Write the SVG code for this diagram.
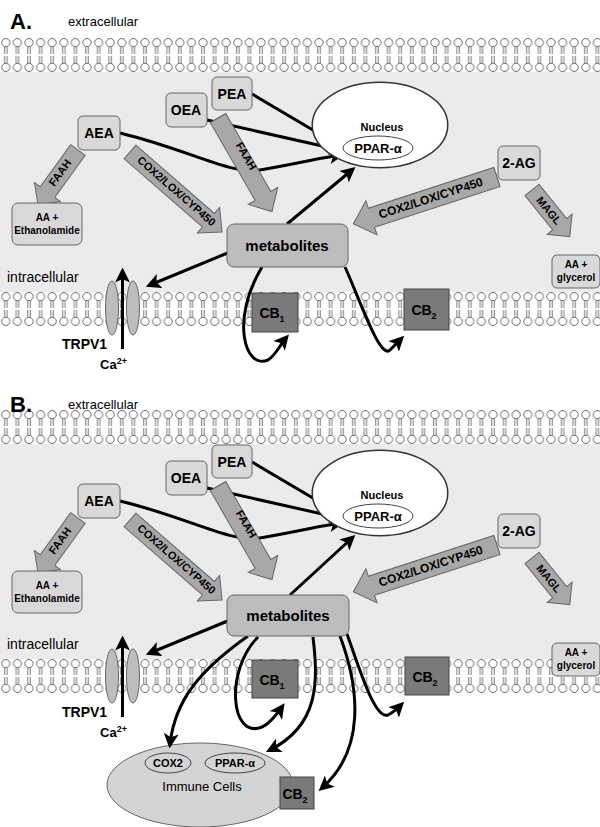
<svg xmlns="http://www.w3.org/2000/svg" width="600" height="827" viewBox="0 0 600 827">
<style>
text{font-family:"Liberation Sans",Arial,sans-serif;}
.b{font-weight:bold;}
.box{fill:#d9d9d9;stroke:#666;stroke-width:1;}
.met{fill:#bdbdbd;stroke:#666;stroke-width:1;}
.cb{fill:#7a7a7a;stroke:#444;stroke-width:1;}
.fat{fill:#a8a8a8;stroke:#666;stroke-width:1;}
.con{fill:none;stroke:#000;stroke-width:3;marker-end:url(#ah);}
.ch{fill:#bdbdbd;stroke:#666;}
.nuc{fill:#fff;stroke:#333;stroke-width:5;}
.nuci{fill:#fff;stroke:#fff;stroke-width:2;}
</style>
<defs>
<marker id="ah" markerWidth="5" markerHeight="5" refX="3.5" refY="2.5" orient="auto" markerUnits="strokeWidth"><path d="M0,0 L5,2.5 L0,5 L1.2,2.5 Z" fill="#000"/></marker>
<pattern id="lip" patternUnits="userSpaceOnUse" width="11.6" height="34">
<rect width="11.6" height="34" fill="#fff"/>
<path d="M4.6,9 V16 M7,9 V16 M4.6,18 V25 M7,18 V25" stroke="#666" stroke-width="0.9"/>
<circle cx="5.8" cy="4.6" r="4.1" fill="#fff" stroke="#444" stroke-width="0.8"/>
<circle cx="5.8" cy="29.4" r="4.1" fill="#fff" stroke="#444" stroke-width="0.8"/>
</pattern>
</defs>
<rect width="600" height="827" fill="#fff"/>
<rect x="0" y="55" width="600" height="255" fill="#ebebeb"/>
<rect x="0" y="428" width="600" height="248" fill="#ebebeb"/>
<g id="membranes">
<g transform="translate(0,38)"><rect x="0" y="0" width="600" height="34" fill="url(#lip)"/></g>
<g transform="translate(0,292)"><rect x="0" y="0" width="600" height="34" fill="url(#lip)"/></g>
<g transform="translate(0,410)"><rect x="0" y="0" width="600" height="34" fill="url(#lip)"/></g>
<g transform="translate(0,659)"><rect x="0" y="0" width="600" height="34" fill="url(#lip)"/></g>
</g>

<!-- ================= PANEL A ================= -->
<g id="labelsA">
<text x="10" y="29" font-size="22" class="b">A.</text>
<text x="68" y="26" font-size="13">extracellular</text>
<text x="7" y="282" font-size="14">intracellular</text>
</g>
<g id="connectorsA">
<path class="con" d="M252,94 L340,146"/>
<path class="con" d="M207,120 L340,150"/>
<path class="con" d="M120,133 C190,150 230,175 260,170 C290,165 320,158 340,155"/>
<path class="con" d="M287,224 L352,170"/>
<path class="con" d="M230,252 L150,285"/>
<path class="con" d="M262,267 C230,320 245,370 268,360 C275,356 280,345 286,338"/>
<path class="con" d="M345,267 C360,300 380,360 390,350 C395,345 398,342 401,339"/>
</g>
<g id="trpv1A">
<ellipse class="ch" cx="112" cy="308" rx="6.5" ry="27"/>
<ellipse class="ch" cx="133" cy="308" rx="6.5" ry="27"/>
<line x1="122.5" y1="349" x2="122.5" y2="272" stroke="#000" stroke-width="3" marker-end="url(#ah)"/>
<text x="62" y="349" font-size="14" class="b">TRPV1</text>
<text x="100" y="369" font-size="13" class="b">Ca<tspan font-size="9" dy="-5">2+</tspan></text>
</g>
<g id="nucleusA">
<ellipse class="nuc" cx="380" cy="125" rx="66" ry="41"/>
<ellipse class="nuci" cx="380" cy="125" rx="66" ry="41"/>
<text x="382" y="131" font-size="11" class="b" text-anchor="middle">Nucleus</text>
<ellipse cx="378" cy="148" rx="35" ry="12" fill="#fff" stroke="#444"/>
<text x="378" y="153" font-size="13" class="b" text-anchor="middle">PPAR-α</text>
</g>
<g id="fatA">
<g transform="translate(78,150) rotate(126)"><path class="fat" d="M0,-9 H52 V-16 L68,0 L52,16 V9 H0 Z"/></g>
<text transform="translate(63,175) rotate(-54)" font-size="11" class="b" text-anchor="middle">FAAH</text>
<g transform="translate(130,152) rotate(41)"><path class="fat" d="M0,-9 H104 V-17 L122,0 L104,17 V9 H0 Z"/></g>
<text transform="translate(174,194) rotate(41)" font-size="11" class="b" text-anchor="middle">COX2/LOX/CYP450</text>
<g transform="translate(218,118) rotate(60)"><path class="fat" d="M0,-9 H90 V-17 L108,0 L90,17 V9 H0 Z"/></g>
<text transform="translate(243,158) rotate(60)" font-size="11" class="b" text-anchor="middle">FAAH</text>
<g transform="translate(497,177) rotate(162)"><path class="fat" d="M0,-10 H132 V-18 L151,0 L132,18 V10 H0 Z"/></g>
<text transform="translate(432,202) rotate(-18)" font-size="12" class="b" text-anchor="middle">COX2/LOX/CYP450</text>
<g transform="translate(532,190) rotate(51)"><path class="fat" d="M0,-9 H44 V-16 L60,0 L44,16 V9 H0 Z"/></g>
<text transform="translate(546,213) rotate(51)" font-size="11" class="b" text-anchor="middle">MAGL</text>
</g>
<g id="PEA_A"><rect class="box" x="212" y="77" width="40" height="33" rx="5"/><text x="232" y="99" font-size="14" class="b" text-anchor="middle">PEA</text></g>
<g id="OEA_A"><rect class="box" x="166" y="93" width="41" height="34" rx="5"/><text x="186" y="115" font-size="14" class="b" text-anchor="middle">OEA</text></g>
<g id="AEA_A"><rect class="box" x="78" y="116" width="42" height="34" rx="5"/><text x="99" y="138" font-size="14" class="b" text-anchor="middle">AEA</text></g>
<g id="TwoAG_A"><rect class="box" x="498" y="146" width="42" height="34" rx="5"/><text x="519" y="168" font-size="14" class="b" text-anchor="middle">2-AG</text></g>
<g id="AAE_A"><rect class="box" x="12" y="203" width="70" height="42" rx="6"/><text x="47" y="221" font-size="10" class="b" text-anchor="middle">AA +</text><text x="47" y="234" font-size="10" class="b" text-anchor="middle">Ethanolamide</text></g>
<g id="AAG_A"><rect class="box" x="552" y="255" width="48" height="33" rx="5"/><text x="576" y="268" font-size="10" class="b" text-anchor="middle">AA +</text><text x="576" y="281" font-size="10" class="b" text-anchor="middle">glycerol</text></g>
<g id="met_A"><rect class="met" x="227" y="224" width="121" height="43" rx="7"/><text x="287" y="251" font-size="15" class="b" text-anchor="middle">metabolites</text></g>
<g id="CB1_A"><rect class="cb" x="252" y="293" width="46" height="39"/><text x="272" y="318" font-size="14" class="b" text-anchor="middle">CB<tspan font-size="9" dy="4">1</tspan></text></g>
<g id="CB2_A"><rect class="cb" x="404" y="289" width="45" height="41"/><text x="424" y="315" font-size="14" class="b" text-anchor="middle">CB<tspan font-size="9" dy="4">2</tspan></text></g>

<!-- ================= PANEL B ================= -->
<g id="labelsB">
<text x="10" y="412" font-size="22" class="b">B.</text>
<text x="68" y="409" font-size="13">extracellular</text>
<text x="7" y="649" font-size="14">intracellular</text>
</g>
<g id="immune">
<ellipse cx="200" cy="785" rx="93" ry="42" fill="#d4d4d4" stroke="#666"/>
<ellipse cx="168" cy="763" rx="23" ry="10" fill="#d4d4d4" stroke="#444"/>
<text x="168" y="767" font-size="11" class="b" text-anchor="middle">COX2</text>
<ellipse cx="235" cy="763" rx="30" ry="10" fill="#d4d4d4" stroke="#444"/>
<text x="235" y="767" font-size="11" class="b" text-anchor="middle">PPAR-α</text>
<text x="202" y="791" font-size="13" text-anchor="middle">Immune Cells</text>
</g>
<g id="connectorsB">
<path class="con" d="M252,462 L340,514"/>
<path class="con" d="M207,488 L340,518"/>
<path class="con" d="M120,501 C190,518 230,543 260,538 C290,533 320,526 340,523"/>
<path class="con" d="M290,595 L352,538"/>
<path class="con" d="M230,620 L150,653"/>
<path class="con" d="M258,637 C225,670 230,740 262,727 C270,724 277,714 282,707"/>
<path class="con" d="M248,636 C200,670 175,700 170,744"/>
<path class="con" d="M313,637 C318,680 320,725 270,750"/>
<path class="con" d="M340,636 C360,690 365,750 322,788"/>
<path class="con" d="M347,634 C360,670 375,720 388,715 C394,712 398,708 401,705"/>
</g>
<g id="trpv1B">
<ellipse class="ch" cx="112" cy="676" rx="6.5" ry="27"/>
<ellipse class="ch" cx="133" cy="676" rx="6.5" ry="27"/>
<line x1="122.5" y1="717" x2="122.5" y2="640" stroke="#000" stroke-width="3" marker-end="url(#ah)"/>
<text x="62" y="717" font-size="14" class="b">TRPV1</text>
<text x="100" y="737" font-size="13" class="b">Ca<tspan font-size="9" dy="-5">2+</tspan></text>
</g>
<g id="nucleusB">
<ellipse class="nuc" cx="380" cy="493" rx="66" ry="41"/>
<ellipse class="nuci" cx="380" cy="493" rx="66" ry="41"/>
<text x="382" y="499" font-size="11" class="b" text-anchor="middle">Nucleus</text>
<ellipse cx="378" cy="516" rx="35" ry="12" fill="#fff" stroke="#444"/>
<text x="378" y="521" font-size="13" class="b" text-anchor="middle">PPAR-α</text>
</g>
<g id="fatB" transform="translate(0,368)">
<g transform="translate(78,150) rotate(126)"><path class="fat" d="M0,-9 H52 V-16 L68,0 L52,16 V9 H0 Z"/></g>
<text transform="translate(63,175) rotate(-54)" font-size="11" class="b" text-anchor="middle">FAAH</text>
<g transform="translate(130,152) rotate(41)"><path class="fat" d="M0,-9 H104 V-17 L122,0 L104,17 V9 H0 Z"/></g>
<text transform="translate(174,194) rotate(41)" font-size="11" class="b" text-anchor="middle">COX2/LOX/CYP450</text>
<g transform="translate(218,118) rotate(60)"><path class="fat" d="M0,-9 H90 V-17 L108,0 L90,17 V9 H0 Z"/></g>
<text transform="translate(243,158) rotate(60)" font-size="11" class="b" text-anchor="middle">FAAH</text>
<g transform="translate(497,177) rotate(162)"><path class="fat" d="M0,-10 H132 V-18 L151,0 L132,18 V10 H0 Z"/></g>
<text transform="translate(432,202) rotate(-18)" font-size="12" class="b" text-anchor="middle">COX2/LOX/CYP450</text>
<g transform="translate(532,190) rotate(51)"><path class="fat" d="M0,-9 H44 V-16 L60,0 L44,16 V9 H0 Z"/></g>
<text transform="translate(546,213) rotate(51)" font-size="11" class="b" text-anchor="middle">MAGL</text>
</g>
<g id="PEA_B"><rect class="box" x="212" y="445" width="40" height="33" rx="5"/><text x="232" y="467" font-size="14" class="b" text-anchor="middle">PEA</text></g>
<g id="OEA_B"><rect class="box" x="166" y="461" width="41" height="34" rx="5"/><text x="186" y="483" font-size="14" class="b" text-anchor="middle">OEA</text></g>
<g id="AEA_B"><rect class="box" x="78" y="484" width="42" height="34" rx="5"/><text x="99" y="506" font-size="14" class="b" text-anchor="middle">AEA</text></g>
<g id="TwoAG_B"><rect class="box" x="498" y="514" width="42" height="34" rx="5"/><text x="519" y="536" font-size="14" class="b" text-anchor="middle">2-AG</text></g>
<g id="AAE_B"><rect class="box" x="12" y="571" width="70" height="42" rx="6"/><text x="47" y="589" font-size="10" class="b" text-anchor="middle">AA +</text><text x="47" y="602" font-size="10" class="b" text-anchor="middle">Ethanolamide</text></g>
<g id="AAG_B"><rect class="box" x="552" y="643" width="48" height="33" rx="5"/><text x="576" y="656" font-size="10" class="b" text-anchor="middle">AA +</text><text x="576" y="669" font-size="10" class="b" text-anchor="middle">glycerol</text></g>
<g id="met_B"><rect class="met" x="227" y="595" width="122" height="41" rx="7"/><text x="288" y="621" font-size="15" class="b" text-anchor="middle">metabolites</text></g>
<g id="CB1_B"><rect class="cb" x="252" y="660" width="46" height="38"/><text x="272" y="685" font-size="14" class="b" text-anchor="middle">CB<tspan font-size="9" dy="4">1</tspan></text></g>
<g id="CB2_B"><rect class="cb" x="405" y="657" width="44" height="38"/><text x="425" y="682" font-size="14" class="b" text-anchor="middle">CB<tspan font-size="9" dy="4">2</tspan></text></g>
<g id="CB2_imm"><rect class="cb" x="280" y="777" width="34" height="32"/><text x="295" y="799" font-size="14" class="b" text-anchor="middle">CB<tspan font-size="9" dy="4">2</tspan></text></g>
</svg>
